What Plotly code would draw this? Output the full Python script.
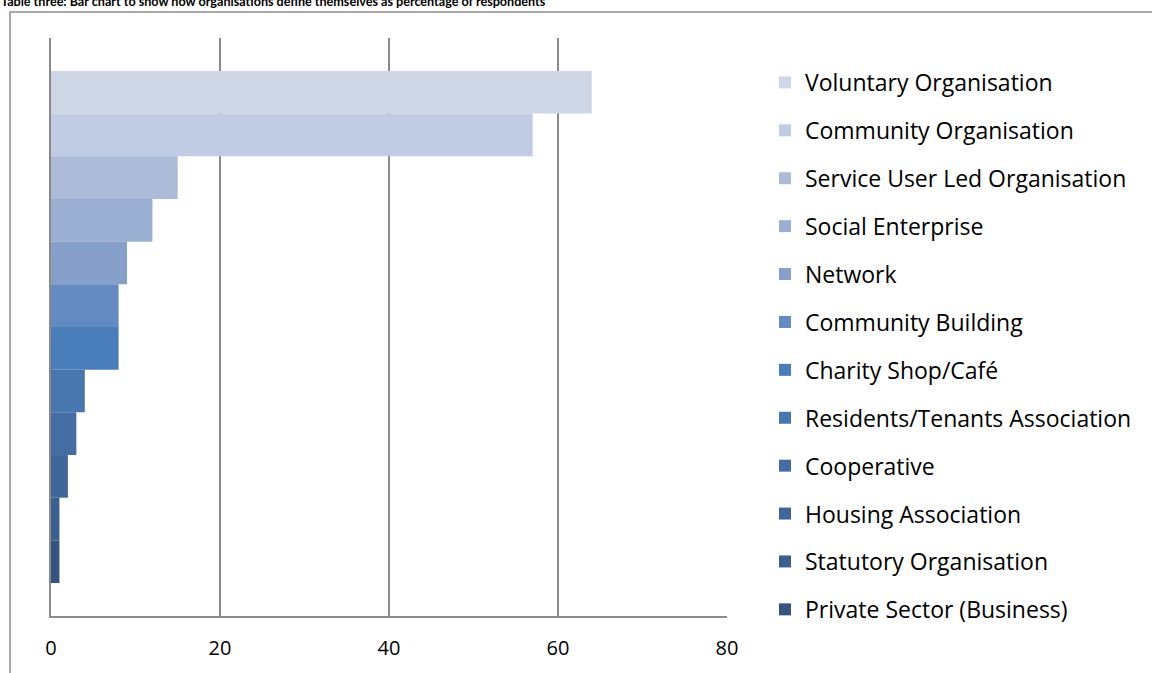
import plotly.graph_objects as go

# How organisations define themselves (% of respondents)
categories = [
    "Voluntary Organisation",
    "Community Organisation",
    "Service User Led Organisation",
    "Social Enterprise",
    "Network",
    "Community Building",
    "Charity Shop/Café",
    "Residents/Tenants Association",
    "Cooperative",
    "Housing Association",
    "Statutory Organisation",
    "Private Sector (Business)",
]
percentages = [64, 57, 15, 12, 9, 8, 8, 4, 3, 2, 1, 1]
colors = [
    "#CFD7E7", "#BFCCE3", "#ACBBD8", "#9BAFD3", "#86A0CA", "#638BC1",
    "#4A7EBB", "#4876AE", "#446EA3", "#406799", "#3B608F", "#34547E",
]
x_ticks = [0, 20, 40, 60, 80]

W, H = 1152, 673
L, R, T, B = 51, 727, 38, 616  # plot area in pixels

FONT = "Open Sans"

fig = go.Figure()
for name, val, col in zip(categories, percentages, colors):
    fig.add_trace(go.Bar(
        y=[""], x=[val], name=name, orientation="h",
        marker=dict(color=col, line=dict(width=0)),
        legendgroup=name,
    ))

def px_x(p):
    return (p - L) / (R - L)

def px_y(p):
    return (B - p) / (B - T)

fig.update_layout(
    width=W, height=H,
    margin=dict(l=L, r=W - R, t=T, b=H - B),
    paper_bgcolor="white", plot_bgcolor="white",
    barmode="group", bargap=0.114, bargroupgap=0,
    font=dict(family=FONT, color="#000000"),
    showlegend=True,
    legend=dict(
        x=px_x(765), xanchor="left", y=px_y(61), yanchor="top",
        font=dict(family=FONT, size=23, color="#000000"),
        tracegroupgap=15, bgcolor="rgba(0,0,0,0)",
        itemclick=False, maxheight=660,
    ),
    xaxis=dict(
        range=[0, 80], tickvals=x_ticks, ticktext=[str(v) for v in x_ticks],
        showgrid=True, gridcolor="#8A8A8A", gridwidth=2,
        showline=True, linecolor="#8A8A8A", linewidth=2,
        zeroline=False, ticks="", ticklabelstandoff=13,
        tickfont=dict(family=FONT, size=20, color="#000000"),
        fixedrange=True,
    ),
    yaxis=dict(
        range=[0.5, -0.5], showticklabels=False, showgrid=False,
        showline=True, linecolor="#8A8A8A", linewidth=2,
        zeroline=False, ticks="", fixedrange=True,
    ),
    shapes=[
        dict(type="rect", xref="paper", yref="paper",
             x0=px_x(10), x1=px_x(1170), y0=px_y(690), y1=px_y(12),
             line=dict(color="#8C8C8C", width=1.5), fillcolor="rgba(0,0,0,0)",
             layer="below"),
    ],
    annotations=[
        dict(text="<b>Table three: Bar chart to show how organisations define themselves as percentage of respondents</b>",
             xref="paper", yref="paper", x=px_x(-1), xanchor="left",
             y=px_y(11.5), yanchor="bottom", showarrow=False,
             font=dict(family="Lato", size=12.6, color="#000000")),
    ],
)

fig.write_html("out.html")
